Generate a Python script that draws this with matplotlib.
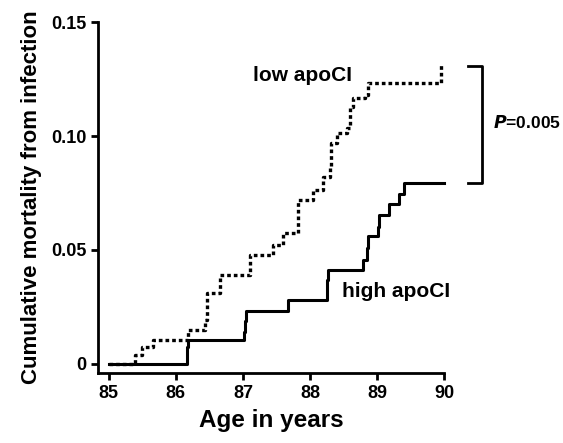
import matplotlib
matplotlib.use("Agg")
import matplotlib.pyplot as plt

plt.rcParams["font.family"] = ["Liberation Sans", "DejaVu Sans"]
plt.rcParams["font.weight"] = "bold"

# survival-style step data
high_x = [85.0, 86.16, 86.18, 87.01, 87.03, 87.05, 87.67, 88.25, 88.27,
          88.79, 88.85, 88.87, 89.01, 89.03, 89.18, 89.33, 89.40, 90.0]
high_y = [0.0, 0.0076, 0.0105, 0.0142, 0.019, 0.0234, 0.0281, 0.037, 0.0413,
          0.0457, 0.051, 0.056, 0.0603, 0.0654, 0.0702, 0.0746, 0.0796, 0.0796]

low_x = [85.0, 85.39, 85.49, 85.66, 86.18, 86.43, 86.46, 86.66, 87.10, 87.45,
         87.60, 87.82, 88.04, 88.19, 88.30, 88.31, 88.40, 88.55, 88.60, 88.64,
         88.82, 88.87, 89.95]
low_y = [0.0, 0.004, 0.0072, 0.0105, 0.0149, 0.0193, 0.031, 0.039, 0.0479, 0.0522,
         0.0576, 0.072, 0.0764, 0.082, 0.0865, 0.097, 0.1014, 0.1036, 0.1128, 0.1168,
         0.118, 0.1233, 0.131]

x_ticks = [85, 86, 87, 88, 89, 90]
y_ticks = [0, 0.05, 0.10, 0.15]
y_tick_labels = ["0", "0.05", "0.10", "0.15"]

fig = plt.figure(figsize=(5.63, 4.43), dpi=100)
ax = fig.add_axes([0.174, 0.158, 0.615, 0.792])

ax.plot(high_x, high_y, drawstyle="steps-post", color="black", lw=2.2,
        clip_on=False)
ax.plot(low_x, low_y, drawstyle="steps-post", color="black", lw=2.4,
        linestyle=(0, (1.1, 0.9)), clip_on=False)

ax.set_xlim(84.84, 90)
ax.set_ylim(-0.004, 0.15)
ax.set_xticks(x_ticks)
ax.set_yticks(y_ticks)
ax.set_yticklabels(y_tick_labels)

for s in ["top", "right"]:
    ax.spines[s].set_visible(False)
for s in ["left", "bottom"]:
    ax.spines[s].set_linewidth(2)
ax.tick_params(width=2, length=5, labelsize=13, direction="out")
for lab in ax.get_xticklabels() + ax.get_yticklabels():
    lab.set_fontweight("bold")

ax.set_xlabel("Age in years", fontsize=17.5, fontweight="bold", labelpad=5)
ax.set_ylabel("Cumulative mortality from infection", fontsize=16, fontweight="bold",
              labelpad=6)

ax.text(87.15, 0.1264, "low apoCI", fontsize=15, fontweight="bold",
        va="center", ha="left")
ax.text(88.48, 0.0316, "high apoCI", fontsize=15, fontweight="bold",
        va="center", ha="left")

# bracket for the p value
ax.plot([90.36, 90.57, 90.57, 90.36], [0.1309, 0.1309, 0.0795, 0.0795],
        color="black", lw=2, clip_on=False)
ax.text(90.73, 0.106, "$\\bfit{P}$=0.005", fontsize=12.5, fontweight="bold",
        va="center", ha="left")

fig.savefig("out.png", dpi=100)
